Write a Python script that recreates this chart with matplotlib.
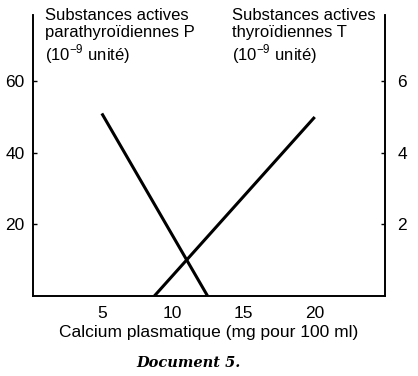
import matplotlib
matplotlib.use("Agg")
import matplotlib.pyplot as plt

# calcium plasmatique (mg pour 100 ml)
calcium_p = [5, 12.45]
parathyroid = [51, 0]        # left axis, 10^-9 unité
calcium_t = [8.7, 20]
thyroid = [0, 5]             # right axis, 10^-9 unité

x_ticks = [5, 10, 15, 20]
left_ticks = [20, 40, 60]
right_ticks = [2, 4, 6]

plt.rcParams["font.family"] = ["Liberation Sans", "DejaVu Sans"]

fig = plt.figure(figsize=(4.18, 3.76), dpi=100)
ax = fig.add_axes([33 / 418, 1 - 296 / 376, (385 - 33) / 418, (296 - 15) / 376])
ax2 = ax.twinx()

ax.plot(calcium_p, parathyroid, color="black", lw=2.2, solid_capstyle="butt")
ax2.plot(calcium_t, thyroid, color="black", lw=2.2, solid_capstyle="butt")

ax.set_xlim(0.15, 24.95)
ax.set_ylim(0, 78.5)
ax2.set_ylim(0, 7.85)

for a in (ax, ax2):
    a.spines["top"].set_visible(False)
    for s in a.spines.values():
        s.set_linewidth(1.2)

ax.set_xticks(x_ticks)
ax.set_yticks(left_ticks)
ax2.set_yticks(right_ticks)
ax.tick_params(axis="x", length=0, pad=7, labelsize=12.5)
ax.tick_params(axis="y", direction="in", length=3, width=1, pad=6, labelsize=12.5)
ax2.tick_params(axis="y", direction="in", length=3, width=1, pad=9, labelsize=12.5)

ax.set_xlabel("Calcium plasmatique (mg pour 100 ml)", fontsize=12.5, labelpad=3)

fig.text(45 / 418, 1 - 8 / 376,
         "Substances actives\nparathyroïdiennes P\n(10$^{\\mathregular{-9}}$ unité)",
         ha="left", va="top", fontsize=12, linespacing=1.15)
fig.text(232 / 418, 1 - 8 / 376,
         "Substances actives\nthyroïdiennes T\n(10$^{\\mathregular{-9}}$ unité)",
         ha="left", va="top", fontsize=12, linespacing=1.15)

fig.text(189 / 418, 1 - 363 / 376, "Document 5.", ha="center", va="center",
         fontsize=10.5, family="DejaVu Serif", style="italic", weight="bold")

fig.savefig("out.png", dpi=100)
